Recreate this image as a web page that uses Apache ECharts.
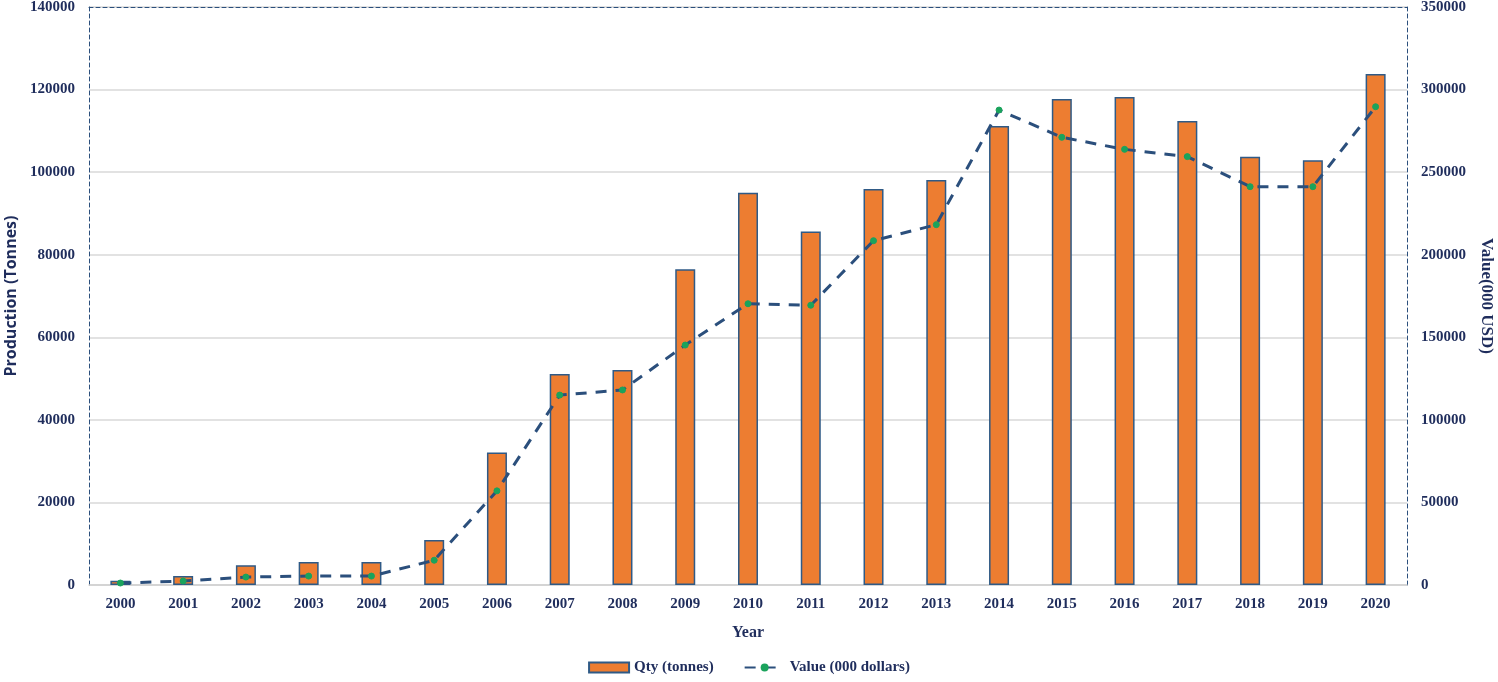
<!DOCTYPE html>
<html><head><meta charset="utf-8">
<script src="https://cdn.jsdelivr.net/npm/echarts@6/dist/echarts.min.js"></script>
<style>html,body{margin:0;padding:0;background:#fff}#c{width:1498px;height:682px}</style>
</head><body><div id="c"></div>
<script>
const years = ['2000','2001','2002','2003','2004','2005','2006','2007','2008','2009','2010','2011','2012','2013','2014','2015','2016','2017','2018','2019','2020'];
const qtyTonnes = [1000,2200,4800,5600,5600,10900,32100,51100,52100,76500,95000,85600,95900,98100,111200,117700,118200,112400,103700,102900,123800];
const value000Usd = [1200,2400,4800,5400,5400,15000,57000,115000,118100,145300,170300,169400,208500,218200,287600,271100,263800,259400,241200,241200,289600];
const leftTicks = [0,20000,40000,60000,80000,100000,120000,140000];
const rightTicks = [0,50000,100000,150000,200000,250000,300000,350000];

const navy = '#1f2d5c';
const lineColor = '#2b4f7c';
const serif = '"Liberation Serif", "DejaVu Serif", serif';
const chart = echarts.init(document.getElementById('c'));
const labelStyle = {color: navy, fontFamily: serif, fontWeight: 'bold', fontSize: 15};
const plain = v => String(v);
chart.setOption({
  animation: false,
  grid: {left: 89, right: 91, top: 7, bottom: 97, containLabel: false, outerBoundsMode: 'none'},
  legend: {
    bottom: 2, left: 'center', itemGap: 30, itemWidth: 40, itemHeight: 10,
    textStyle: {color: navy, fontFamily: serif, fontWeight: 'bold', fontSize: 15},
    data: [
      {name: 'Qty (tonnes)', icon: 'rect'},
      {name: 'Value (000 dollars)'}
    ]
  },
  xAxis: [{
    type: 'category', data: years,
    name: 'Year', nameLocation: 'middle', nameGap: 40,
    nameTextStyle: {color: navy, fontFamily: serif, fontWeight: 'bold', fontSize: 16},
    axisLine: {show: true, onZero: false, lineStyle: {color: '#d0d0d0', width: 1.5}},
    axisTick: {show: false},
    axisLabel: Object.assign({margin: 12}, labelStyle)
  }, {
    type: 'category', data: years, position: 'top',
    axisLine: {show: true, onZero: false, lineStyle: {color: lineColor, type: [4,3], width: 1}},
    axisTick: {show: false}, axisLabel: {show: false}
  }],
  yAxis: [{
    type: 'value', min: 0, max: 140000, interval: 20000,
    name: 'Production (Tonnes)', nameLocation: 'middle', nameGap: 68, nameRotate: 90,
    nameTextStyle: {color: navy, fontFamily: '"Open Sans", "Liberation Sans", sans-serif', fontWeight: 'bold', fontSize: 16},
    axisLine: {show: true, lineStyle: {color: lineColor, type: [4,3], width: 1}},
    axisTick: {show: false},
    splitLine: {show: true, lineStyle: {color: '#d9d9d9', width: 1.5}},
    axisLabel: Object.assign({margin: 14, formatter: plain}, labelStyle)
  }, {
    type: 'value', min: 0, max: 350000, interval: 50000,
    name: 'Value(000 USD)', nameLocation: 'middle', nameGap: 71, nameRotate: -90,
    nameTextStyle: {color: navy, fontFamily: serif, fontWeight: 'bold', fontSize: 17},
    axisLine: {show: true, lineStyle: {color: lineColor, type: [4,3], width: 1}},
    axisTick: {show: false},
    splitLine: {show: false},
    axisLabel: Object.assign({margin: 14, formatter: plain}, labelStyle)
  }],
  series: [{
    name: 'Qty (tonnes)', type: 'bar', data: qtyTonnes, barWidth: 20,
    itemStyle: {color: '#ed7d31', borderColor: '#2f5a86', borderWidth: 1.5}
  }, {
    name: 'Value (000 dollars)', type: 'line', yAxisIndex: 1, data: value000Usd,
    symbol: 'circle', symbolSize: 6,
    lineStyle: {color: lineColor, width: 3, type: [11, 9]},
    itemStyle: {color: '#1aa35c', borderColor: '#1aa35c'}
  }]
});
</script></body></html>
